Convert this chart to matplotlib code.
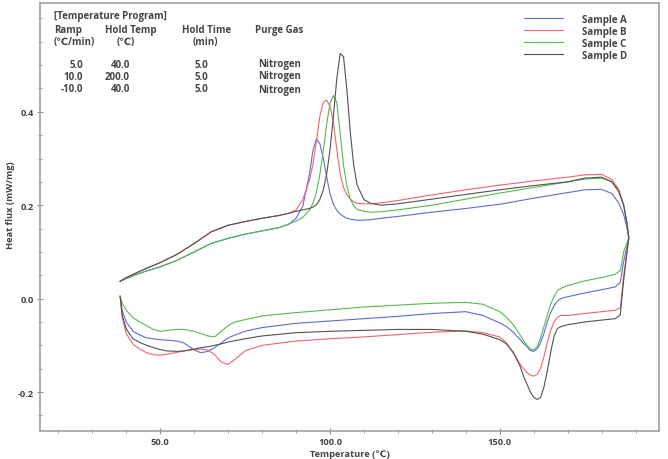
import matplotlib
matplotlib.use("Agg")
import matplotlib.pyplot as plt
from matplotlib.ticker import MultipleLocator

plt.rcParams['font.family'] = ['Open Sans', 'DejaVu Sans']
plt.rcParams['axes.unicode_minus'] = False

# heating branch (common temperature grid, deg C)
heat_T = [38.2, 40, 45, 50, 55, 60, 65, 70, 75, 80, 85, 88, 90, 92, 94, 95, 96, 97, 98, 99,
          100, 101, 102, 103, 104, 105, 106, 107, 108, 110, 112, 115, 120, 130, 140, 150,
          160, 170, 175, 180, 183, 185, 186.5, 187.5, 188]

heat_a = [0.037, 0.043, 0.057, 0.068, 0.082, 0.100, 0.118, 0.129, 0.138, 0.145, 0.152, 0.160, 0.172, 0.198, 0.268, 0.318, 0.342, 0.332, 0.302,
          0.262, 0.225, 0.202, 0.189, 0.181, 0.176, 0.172, 0.170, 0.169, 0.168, 0.168, 0.169, 0.172, 0.176, 0.185, 0.193, 0.202,
          0.215, 0.227, 0.233, 0.234, 0.225, 0.205, 0.180, 0.150, 0.130]
heat_b = [0.037, 0.045, 0.062, 0.077, 0.095, 0.118, 0.143, 0.157, 0.165, 0.172, 0.178, 0.183, 0.190, 0.212, 0.255, 0.288, 0.337, 0.390, 0.420, 0.425,
          0.412, 0.378, 0.320, 0.268, 0.238, 0.222, 0.213, 0.207, 0.204, 0.203, 0.203, 0.205, 0.210, 0.222, 0.233, 0.243,
          0.252, 0.260, 0.265, 0.266, 0.255, 0.235, 0.200, 0.160, 0.130]
heat_c = [0.037, 0.043, 0.057, 0.068, 0.082, 0.100, 0.118, 0.129, 0.138, 0.145, 0.152, 0.160, 0.166, 0.174, 0.190, 0.205, 0.228, 0.265, 0.315, 0.372,
          0.418, 0.435, 0.420, 0.355, 0.285, 0.240, 0.213, 0.199, 0.191, 0.187, 0.185, 0.186, 0.190, 0.200, 0.213, 0.226,
          0.238, 0.250, 0.256, 0.258, 0.250, 0.230, 0.200, 0.160, 0.130]
heat_d = [0.037, 0.045, 0.062, 0.077, 0.095, 0.118, 0.143, 0.157, 0.165, 0.172, 0.178, 0.183, 0.187, 0.190, 0.193, 0.196, 0.201, 0.212, 0.232, 0.265,
          0.318, 0.390, 0.470, 0.525, 0.518, 0.445, 0.355, 0.285, 0.243, 0.212, 0.204, 0.200, 0.203, 0.213, 0.223, 0.233,
          0.242, 0.250, 0.258, 0.260, 0.250, 0.230, 0.200, 0.160, 0.130]

# cooling branch (common temperature grid, deg C)
cool_T = [188, 186.5, 185.5, 184, 180, 175, 170, 168, 167, 166, 165, 164, 163, 162, 161, 160,
          159, 158, 157, 156, 154, 152, 150, 145, 140, 130, 120, 110, 100, 90, 80, 75, 72,
          70, 68, 66, 64, 62, 60, 57, 55, 52, 50, 48, 46, 44, 42, 40, 38.8, 38.2]

cool_a = [0.130, 0.080, 0.035, 0.025, 0.019, 0.012, 0.004, 0.000, -0.005, -0.015, -0.030, -0.050, -0.075, -0.095, -0.108, -0.113,
          -0.111, -0.103, -0.096, -0.088, -0.072, -0.060, -0.052, -0.036, -0.028, -0.032, -0.038, -0.043, -0.048, -0.053, -0.062, -0.070, -0.078,
          -0.084, -0.095, -0.105, -0.113, -0.116, -0.110, -0.095, -0.091, -0.089, -0.088, -0.086, -0.084, -0.078, -0.070, -0.050, -0.025, 0.005]
cool_b = [0.130, 0.050, -0.020, -0.025, -0.028, -0.032, -0.036, -0.036, -0.040, -0.050, -0.068, -0.095, -0.125, -0.150, -0.162, -0.166,
          -0.164, -0.158, -0.150, -0.140, -0.117, -0.095, -0.082, -0.073, -0.069, -0.072, -0.077, -0.082, -0.086, -0.091, -0.100, -0.112, -0.130,
          -0.141, -0.136, -0.120, -0.110, -0.108, -0.109, -0.112, -0.115, -0.119, -0.121, -0.120, -0.116, -0.108, -0.098, -0.075, -0.040, 0.005]
cool_c = [0.130, 0.100, 0.060, 0.052, 0.045, 0.038, 0.028, 0.022, 0.017, 0.005, -0.012, -0.035, -0.060, -0.085, -0.103, -0.110,
          -0.108, -0.100, -0.090, -0.078, -0.056, -0.040, -0.028, -0.012, -0.008, -0.010, -0.014, -0.018, -0.024, -0.030, -0.037, -0.045, -0.050,
          -0.058, -0.070, -0.082, -0.080, -0.075, -0.070, -0.066, -0.066, -0.068, -0.070, -0.066, -0.058, -0.050, -0.041, -0.025, -0.010, 0.005]
cool_d = [0.130, 0.040, -0.035, -0.043, -0.046, -0.050, -0.056, -0.060, -0.064, -0.080, -0.115, -0.155, -0.190, -0.212, -0.216, -0.211,
          -0.200, -0.183, -0.166, -0.145, -0.115, -0.097, -0.088, -0.076, -0.070, -0.066, -0.066, -0.068, -0.070, -0.073, -0.080, -0.086, -0.090,
          -0.093, -0.097, -0.100, -0.103, -0.105, -0.108, -0.112, -0.113, -0.112, -0.109, -0.105, -0.100, -0.094, -0.086, -0.065, -0.035, 0.005]

labels = ['Sample A', 'Sample B', 'Sample C', 'Sample D']
colors = ['#5f6cd4', '#f2636f', '#52bb4e', '#525252']

x_ticks = [50, 100, 150]
x_tick_labels = ['50.0', '100.0', '150.0']
y_ticks = [-0.2, 0.0, 0.2, 0.4]
y_tick_labels = ['-0.2', '0.0', '0.2', '0.4']

prog_header = ['Ramp', 'Hold Temp', 'Hold Time', 'Purge Gas']
prog_units = ['(℃/min)', '(℃)', '(min)', '']
prog_ramp = ['5.0', '10.0', '-10.0']
prog_temp = ['40.0', '200.0', '40.0']
prog_time = ['5.0', '5.0', '5.0']
prog_gas = ['Nitrogen', 'Nitrogen', 'Nitrogen']


def main():
    W, H = 668, 460
    fig = plt.figure(figsize=(W / 100, H / 100), dpi=100)
    ax = fig.add_axes([40 / W, 1 - 432 / H, 619 / W, 428 / H])

    heats = [heat_a, heat_b, heat_c, heat_d]
    cools = [cool_a, cool_b, cool_c, cool_d]
    for h, c, lab, col in zip(heats, cools, labels, colors):
        ax.plot(heat_T + cool_T, h + c, color=col, lw=0.8, label=lab)

    ax.set_xlim(14.6, 196.9)
    ax.set_ylim(-0.2835, 0.633)
    ax.set_xticks(x_ticks)
    ax.set_xticklabels(x_tick_labels)
    ax.set_yticks(y_ticks)
    ax.set_yticklabels(y_tick_labels)
    ax.xaxis.set_minor_locator(MultipleLocator(10))
    ax.yaxis.set_minor_locator(MultipleLocator(0.05))

    tc = '#444444'
    for s in ax.spines.values():
        s.set_color('#a0a0a0')
        s.set_linewidth(1.2)
    ax.tick_params(which='major', direction='inout', length=5, width=0.8, color='#909090',
                   labelsize=6.7, labelcolor=tc, pad=2)
    ax.tick_params(which='minor', direction='inout', length=3, width=0.7, color='#a0a0a0')
    for lbl in ax.get_xticklabels() + ax.get_yticklabels():
        lbl.set_fontweight('bold')

    ax.set_xlabel('Temperature (℃)', fontsize=6.7, fontweight='bold', color=tc, labelpad=2)
    ax.set_ylabel('Heat flux (mW/mg)', fontsize=6.7, fontweight='bold', color=tc)
    ax.yaxis.set_label_coords(-0.04, 0.53)

    leg = ax.legend(loc='upper right', bbox_to_anchor=(0.963, 0.995), frameon=False,
                    fontsize=7, handlelength=4.0, handletextpad=2.0, labelspacing=0.1)
    for t in leg.get_texts():
        t.set_fontweight('bold')
        t.set_color(tc)

    # temperature program block
    def ftxt(x, y, s, ha='left'):
        fig.text(x / W, 1 - y / H, s, ha=ha, va='center', fontsize=7,
                 fontweight='bold', color=tc)

    ftxt(54, 16, '[Temperature Program]')
    head_x = [54, 105, 182, 255]
    for x, s in zip(head_x, prog_header):
        ftxt(x, 31, s)
    unit_x = [54, 117, 193, 255]
    for x, s in zip(unit_x, prog_units):
        ftxt(x, 43, s)
    for i, y in enumerate([65, 77, 90]):
        ftxt(83, y, prog_ramp[i], ha='right')
        ftxt(130, y, prog_temp[i], ha='right')
        ftxt(201, y, prog_time[i], ha='center')
        ftxt(280, y, prog_gas[i], ha='center')

    fig.savefig('out.png', dpi=100)


if __name__ == "__main__":
    main()
